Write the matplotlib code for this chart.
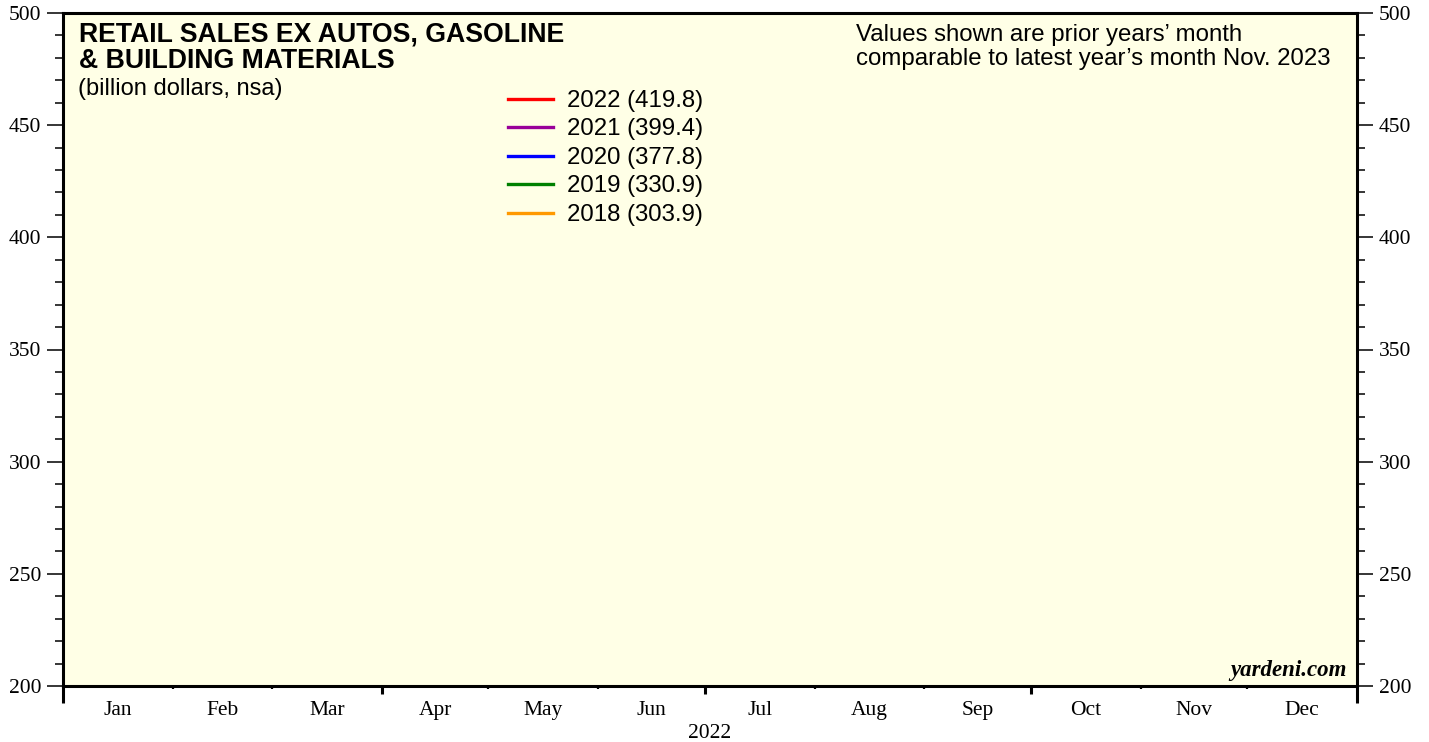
import matplotlib
matplotlib.use("Agg")
import matplotlib.pyplot as plt
from matplotlib.ticker import FixedLocator, MultipleLocator, NullFormatter

# ---- data ----
years = ["2022", "2021", "2020", "2019", "2018"]
latest_values = [419.8, 399.4, 377.8, 330.9, 303.9]
series_colors = ["#FF0000", "#990099", "#0000FF", "#008000", "#FF9900"]
# plotted monthly series (none visible in the reference)
series_x = [[], [], [], [], []]
series_y = [[], [], [], [], []]
months = ["Jan", "Feb", "Mar", "Apr", "May", "Jun", "Jul", "Aug", "Sep", "Oct", "Nov", "Dec"]
month_starts = [0, 31, 59, 90, 120, 151, 181, 212, 243, 273, 304, 334, 365]
year_label = "2022"

W, H = 1429, 742
fig = plt.figure(figsize=(W / 100, H / 100), dpi=100)
fig.patch.set_facecolor("white")
L, R, T, B = 63, 1357, 13, 686
ax = fig.add_axes([L / W, 1 - B / H, (R - L) / W, (B - T) / H])
ax.set_facecolor("#FFFFE6")

for yr, col, xs, ys, v in zip(years, series_colors, series_x, series_y, latest_values):
    ax.plot(xs, ys, color=col, lw=2.2, label=f"{yr} ({v:.1f})")

ax.set_xlim(0, 365)
ax.set_ylim(200, 500)

for s in ax.spines.values():
    s.set_linewidth(2.2)
    s.set_color("black")

serif = "Liberation Serif"
sans = "Liberation Sans"
TS = 15.5

# y axis
ax.yaxis.set_major_locator(MultipleLocator(50))
ax.yaxis.set_minor_locator(MultipleLocator(10))
ax.tick_params(axis="y", which="major", direction="out", length=11.5, width=1.1,
               left=True, right=True, labelleft=True, labelright=True, pad=4,
               labelsize=TS)
ax.tick_params(axis="y", which="minor", direction="out", length=5.8, width=1.1,
               left=True, right=True)
for lab in ax.get_yticklabels():
    lab.set_fontfamily(serif)

# x axis: month boundary ticks (major) and month labels (minor, mid-month)
ax.xaxis.set_major_locator(FixedLocator(month_starts))
ax.xaxis.set_major_formatter(NullFormatter())
mids = [(month_starts[i] + month_starts[i + 1]) / 2 for i in range(12)]
ax.xaxis.set_minor_locator(FixedLocator(mids))
ax.set_xticklabels(months, minor=True)
ax.tick_params(axis="x", which="minor", length=0, pad=10.5, labelsize=TS)
ax.tick_params(axis="x", which="major", direction="out", length=2.5, width=1.6)
for lab in ax.get_xticklabels(minor=True):
    lab.set_fontfamily(serif)
for tick, pos in zip(ax.xaxis.get_major_ticks(), month_starts):
    if pos in (0, 365):
        tick.tick1line.set_markersize(12.5)
        tick.tick1line.set_markeredgewidth(2.2)
    elif pos in (90, 181, 273):
        tick.tick1line.set_markersize(6)
        tick.tick1line.set_markeredgewidth(2.2)

fig.text(710 / W, 1 - 733 / H, year_label, ha="center", va="center",
         fontsize=TS, fontfamily=serif)

# titles
fig.text(79 / W, 1 - 42 / H, "RETAIL SALES EX AUTOS, GASOLINE",
         ha="left", va="baseline", fontsize=19.2, fontweight="bold", fontfamily=sans)
fig.text(79 / W, 1 - 68 / H, "& BUILDING MATERIALS",
         ha="left", va="baseline", fontsize=19.2, fontweight="bold", fontfamily=sans)
fig.text(78 / W, 1 - 95 / H, "(billion dollars, nsa)", ha="left", va="baseline",
         fontsize=17, fontfamily=sans)
fig.text(856 / W, 1 - 41 / H, "Values shown are prior years\u2019 month",
         ha="left", va="baseline", fontsize=17.3, fontfamily=sans)
fig.text(856 / W, 1 - 65 / H, "comparable to latest year\u2019s month Nov. 2023",
         ha="left", va="baseline", fontsize=17.3, fontfamily=sans)

fig.text(1347 / W, 1 - 676 / H, "yardeni.com", ha="right", va="baseline",
         fontsize=16.5, fontweight="bold", fontstyle="italic", fontfamily=serif)

# legend
handles = [plt.Line2D([], [], color=c, lw=2.4) for c in series_colors]
labels = [f"{y} ({v:.1f})" for y, v in zip(years, latest_values)]
leg = fig.legend(handles, labels, loc="upper left",
                 bbox_to_anchor=(508 / W, 1 - 90 / H), bbox_transform=fig.transFigure,
                 frameon=False, borderpad=0, borderaxespad=0, handlelength=1.88,
                 handletextpad=0.58, labelspacing=0.27,
                 prop={"family": sans, "size": 17.3})

fig.savefig("out.png", dpi=100)
